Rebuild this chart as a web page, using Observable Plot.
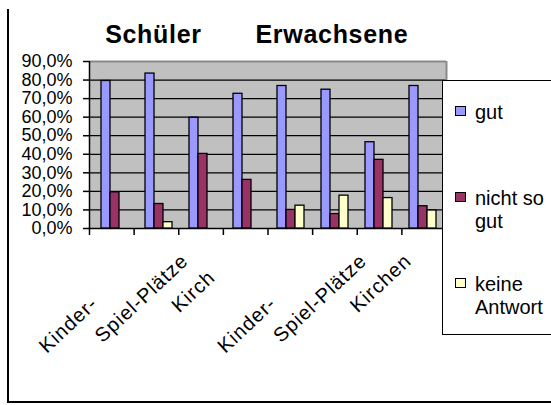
<!DOCTYPE html>
<html>
<head>
<meta charset="utf-8">
<script src="https://cdn.jsdelivr.net/npm/d3@7"></script>
<script src="https://cdn.jsdelivr.net/npm/@observablehq/plot@0.6"></script>
<style>
  html, body { margin: 0; padding: 0; background: #fff; overflow: hidden; }
  #chart { position: relative; width: 551px; height: 405px; font-family: Arial, "Liberation Sans", sans-serif; }
  #chart svg { position: absolute; left: 0; top: 0; }
  .legend { position: absolute; left: 442px; top: 80px; width: 140px; height: 253px; border: 1.5px solid #000; background: #fff; }
  .item { position: absolute; left: 32px; width: 80px; font-size: 20px; line-height: 23px; color: #000; }
  .sw { position: absolute; left: -20px; top: 5px; width: 9px; height: 8px; border: 1.5px solid #000; }
  .frameL { position: absolute; left: 7px; top: 9px; width: 1.5px; height: 394px; background: #000; }
  .frameB { position: absolute; left: 7px; top: 401px; width: 560px; height: 2px; background: #000; }
</style>
</head>
<body>
<div id="chart"></div>
<script>
// ---- data ----
const series = ["gut", "nicht so gut", "keine Antwort"];
const colors = ["#9999ff", "#993366", "#ffffcc"];
const categoryNames = ["Kinder-gärten", "Spiel-Plätze", "Kirchen", "", "Kinder-gärten", "Spiel-Plätze", "Kirchen", ""];
const shownLabels   = ["Kinder-", "Spiel-Plätze", "Kirch", "", "Kinder-", "Spiel-Plätze", "Kirchen", ""];
const sections = ["Schüler", "Erwachsene"];
const gut    = [79.5, 83.5, 59.7, 72.6, 76.8, 74.8, 46.5, 76.8];
const nicht  = [19.5, 13.2, 40.2, 26.2, 10.0, 7.8, 37.0, 12.0];
const keine  = [0, 3.4, 0, 0, 12.3, 17.7, 16.4, 9.7];
const yTicks = [0, 10, 20, 30, 40, 50, 60, 70, 80, 90];

// ---- build table ----
const nGroups = categoryNames.length;
const valueSets = [gut, nicht, keine];
const rows = [];
valueSets.forEach((vals, si) => vals.forEach((v, g) => rows.push({g, s: series[si], v})));
const labelRows = categoryNames.map((full, i) => ({i, full, shown: shownLabels[i]})).filter(d => d.full);
const titleRows = sections.map((t, k) => ({k, t}));
const yMax = yTicks[yTicks.length - 1];
const fmt = d => d.toFixed(1).replace(".", ",") + "%";

const W = 551, H = 405;
const M = {marginLeft: 89, marginRight: 105, marginTop: 61, marginBottom: 177};
const font = "Arial, 'Liberation Sans', sans-serif";

const back = Plot.plot({
  width: W, height: H, ...M,
  x: {domain: [0, nGroups], axis: null},
  y: {domain: [0, yMax], axis: null},
  style: {fontFamily: font, background: "transparent", overflow: "visible", color: "#000"},
  marks: [
    Plot.frame({fill: "#c0c0c0", stroke: "none"}),
    Plot.ruleY(yTicks.slice(1, -1), {stroke: "#000", strokeWidth: 1.3}),
    Plot.ruleY([yMax], {stroke: "#8a8a8a", strokeWidth: 2}),
    Plot.ruleX([nGroups], {stroke: "#8a8a8a", strokeWidth: 2}),
    Plot.ruleX([0], {stroke: "#000", strokeWidth: 1.5}),
    Plot.ruleY([0], {stroke: "#000", strokeWidth: 1.5}),
    Plot.axisY({ticks: yTicks, tickSize: 6, tickPadding: 11, tickFormat: fmt, fontSize: 18, strokeWidth: 1.5, label: null}),
    Plot.axisX({ticks: d3.range(0, nGroups + 1), tickSize: 7, tickFormat: () => "", strokeWidth: 1.5, label: null}),
    Plot.text(labelRows, {x: d => d.i + 0.5, text: "full", frameAnchor: "bottom", textAnchor: "end", rotate: -43, dx: 33, dy: 34, fontSize: 20, fill: "#000"}),
    Plot.text(titleRows, {x: d => d.k * 4 + 1.5, text: "t", frameAnchor: "top", dx: -3, dy: -36, fontSize: 25, fontWeight: "bold", fill: "#000"})
  ]
});

const front = Plot.plot({
  width: W, height: H, ...M,
  fx: {domain: d3.range(nGroups), padding: 0, axis: null},
  x: {domain: series, paddingInner: 0, paddingOuter: 0.78, axis: null},
  y: {domain: [0, yMax], axis: null},
  color: {domain: series, range: colors},
  style: {background: "transparent", overflow: "visible"},
  marks: [
    Plot.barY(rows.filter(d => d.v > 0), {fx: "g", x: "s", y: "v", fill: "s", stroke: "#000", strokeWidth: 1.3})
  ]
});

const chart = document.getElementById("chart");
chart.appendChild(back);
chart.appendChild(front);

// category labels: Excel-style, later label boxes hide the tail of earlier ones
const labelEls = Array.from(back.querySelectorAll("text")).filter(el => el.getAttribute("transform") && el.getAttribute("transform").includes("rotate"));
labelEls.forEach((el, j) => {
  const d = labelRows[j];
  if (!d) return;
  el.setAttribute("letter-spacing", "1");
  const L = el.getComputedTextLength();
  el.textContent = d.shown;
  el.setAttribute("text-anchor", "start");
  el.setAttribute("x", -L);
});
// titles letter-spacing
Array.from(back.querySelectorAll("text")).filter(el => sections.includes(el.textContent)).forEach(el => el.setAttribute("letter-spacing", "0.7"));

// legend
const legend = document.createElement("div");
legend.className = "legend";
series.forEach((s, i) => {
  const it = document.createElement("div");
  it.className = "item";
  it.style.top = (20 + 86 * i) + "px";
  const sw = document.createElement("span");
  sw.className = "sw";
  sw.style.background = colors[i];
  it.appendChild(sw);
  it.appendChild(document.createTextNode(s));
  legend.appendChild(it);
});
chart.appendChild(legend);
const fl = document.createElement("div"); fl.className = "frameL"; chart.appendChild(fl);
const fb = document.createElement("div"); fb.className = "frameB"; chart.appendChild(fb);
</script>
</body>
</html>
